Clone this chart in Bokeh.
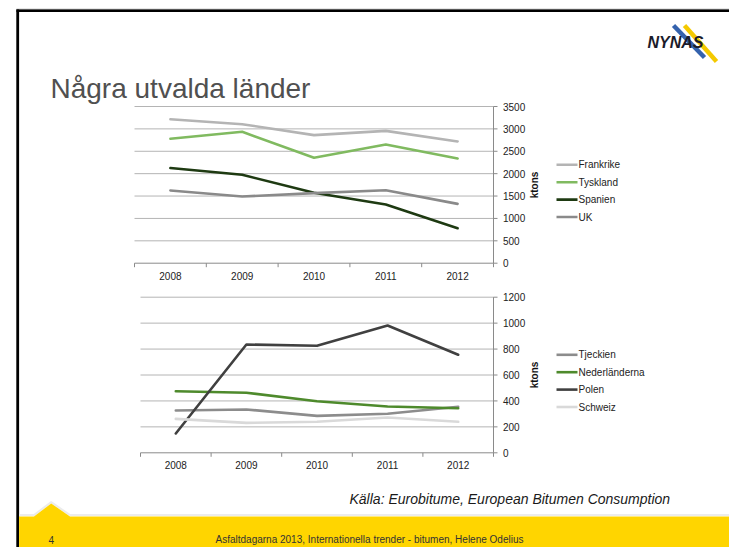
import math
from bokeh.plotting import figure
from bokeh.models import Range1d
from bokeh.core.properties import value
from bokeh.embed import file_html
from bokeh.resources import INLINE

# ---------------- data ----------------
years = ["2008", "2009", "2010", "2011", "2012"]

top_names = ["Frankrike", "Tyskland", "Spanien", "UK"]
frankrike = [3215, 3105, 2860, 2955, 2720]
tyskland = [2780, 2935, 2355, 2650, 2340]
spanien = [2125, 1975, 1575, 1310, 780]
uk = [1625, 1490, 1565, 1630, 1325]
top_ticks = [0, 500, 1000, 1500, 2000, 2500, 3000, 3500]

bottom_names = ["Tjeckien", "Nederländerna", "Polen", "Schweiz"]
tjeckien = [326, 334, 285, 301, 355]
nederlanderna = [475, 463, 398, 357, 344]
polen = [149, 835, 825, 982, 756]
schweiz = [262, 231, 239, 272, 239]
bottom_ticks = [0, 200, 400, 600, 800, 1000, 1200]

axis_title = "ktons"
slide_title = "Några utvalda länder"
source_note = "Källa: Eurobitume, European Bitumen Consumption"
footer_text = "Asfaltdagarna 2013, Internationella trender - bitumen, Helene Odelius"
page_number = "4"
logo_text = "NYNAS"

top_colors = ["#b4b4b4", "#80ba60", "#1e3a12", "#8a8a8a"]
bottom_colors = ["#8c8c8c", "#4e8a2c", "#404040", "#d9d9d9"]

FONT = value("Liberation Sans")
W, H = 729, 547
M = 0


def X(x):
    return x - M


def Y(y):
    return y - M


p = figure(width=W, height=H, x_range=Range1d(0, W), y_range=Range1d(H, 0),
           output_backend="svg", toolbar_location=None,
           x_axis_location=None, y_axis_location=None, min_border=0,
           outline_line_color=None, background_fill_color="white",
           border_fill_color="white", title=None)
p.grid.visible = False

# ---------------- slide decoration ----------------
p.quad(left=[X(16)], right=[W + 5], top=[Y(8.2)], bottom=[Y(9.2)],
       fill_color="#9a9a9a", line_color=None)
p.quad(left=[X(16)], right=[W + 5], top=[Y(9)], bottom=[Y(11.4)],
       fill_color="black", line_color=None)
p.quad(left=[X(15.8)], right=[X(18.6)], top=[Y(9)], bottom=[H + 10],
       fill_color="black", line_color=None)

# yellow footer band with a small peak
p.line(x=[X(18.6), X(33.5), X(50.7), X(69.5), W + 5],
       y=[Y(514.6), Y(514.6), Y(501.6), Y(514.6), Y(514.6)],
       line_color="#ececec", line_width=2)
p.patch(x=[X(18.6), X(33.5), X(50.7), X(69.5), W + 5, W + 5, X(18.6)],
        y=[Y(516), Y(516), Y(503), Y(516), Y(516), H + 10, H + 10],
        fill_color="#ffd500", line_color=None)

# logo
p.line(x=[X(673), X(704)], y=[Y(25), Y(57)], line_color="#3462ad", line_width=4.5)
p.line(x=[X(684), X(716)], y=[Y(25), Y(61)], line_color="#f4c900", line_width=4.5)
p.text(x=[X(647)], y=[Y(41.5)], text=[logo_text], text_font=FONT,
       text_font_size="16px", text_font_style="bold italic", text_color="#1b1b2a",
       text_align="left", text_baseline="middle")

# title
p.text(x=[X(50)], y=[Y(88)], text=[slide_title], text_font=FONT,
       text_font_size="28px", text_color="#505050", text_align="left",
       text_baseline="alphabetic")

# source and footer
p.text(x=[X(349)], y=[Y(498)], text=[source_note], text_font=FONT,
       text_font_size="14px", text_font_style="italic", text_color="#1a1a1a",
       text_align="left", text_baseline="middle")
p.text(x=[X(50.7)], y=[Y(539)], text=[page_number], text_font=FONT,
       text_font_size="10px", text_color="#333333", text_align="center",
       text_baseline="middle")
p.text(x=[X(215)], y=[Y(539)], text=[footer_text], text_font=FONT,
       text_font_size="10px", text_color="#333333", text_align="left",
       text_baseline="middle")

# ---------------- charts ----------------
extra_x, extra_y = {}, {}


def make_ranges(name, x_img0, x_img1, y_img0, y_img1, vmax):
    sx = 5.0 / (x_img1 - x_img0)
    xstart = 0.5 - X(x_img0) * sx
    pb0 = H - Y(y_img0)
    pb1 = H - Y(y_img1)
    sy = vmax / (pb1 - pb0)
    ystart = 0 - pb0 * sy
    extra_x[name] = Range1d(xstart, xstart + W * sx)
    extra_y[name] = Range1d(ystart, ystart + H * sy)
    return sx, sy


def draw_chart(name, sx, sy, ticks, series, names, colors, legend_y0, ktons_y):
    rk = dict(x_range_name=name, y_range_name=name)
    vmax = ticks[-1]
    grid = [t for t in ticks if t != 0]
    p.segment(x0=[0.5] * len(grid), x1=[5.5] * len(grid), y0=grid, y1=grid,
              line_color="#b4b4b4", line_width=1, **rk)
    # x axis
    p.segment(x0=[0.5], x1=[5.5], y0=[0], y1=[0], line_color="#8a8a8a", line_width=1, **rk)
    bounds = [0.5 + i for i in range(6)]
    p.segment(x0=bounds, x1=bounds, y0=[0] * 6, y1=[-4 * sy] * 6,
              line_color="#8a8a8a", line_width=1, **rk)
    # right y axis
    p.segment(x0=[5.5], x1=[5.5], y0=[0], y1=[vmax], line_color="#8a8a8a", line_width=1, **rk)
    p.segment(x0=[5.5] * len(ticks), x1=[5.5 + 4 * sx] * len(ticks), y0=ticks, y1=ticks,
              line_color="#8a8a8a", line_width=1, **rk)
    p.text(x=[5.5 + 9.5 * sx] * len(ticks), y=ticks, text=[str(t) for t in ticks],
           text_font=FONT, text_font_size="10px", text_color="#222222",
           text_align="left", text_baseline="middle", **rk)
    xs = [1, 2, 3, 4, 5]
    p.text(x=xs, y=[-12.5 * sy] * 5, text=years, text_font=FONT, text_font_size="10px",
           text_color="#222222", text_align="center", text_baseline="middle", **rk)
    # series
    for vals, col in zip(series, colors):
        p.line(x=xs, y=vals, line_color=col, line_width=2.6, line_join="round",
               line_cap="round", **rk)
    # axis title
    p.text(x=[X(534)], y=[Y(ktons_y)], text=[axis_title], text_font=FONT,
           text_font_size="10px", text_font_style="bold", text_color="#111111",
           angle=math.pi / 2, text_align="center", text_baseline="middle")
    # legend
    for i, (nm, col) in enumerate(zip(names, colors)):
        yy = Y(legend_y0 + i * 17.4)
        p.segment(x0=[X(556)], x1=[X(577)], y0=[yy], y1=[yy], line_color=col, line_width=2.6)
        p.text(x=[X(578)], y=[yy], text=[nm], text_font=FONT, text_font_size="10px",
               text_color="#222222", text_align="left", text_baseline="middle")


sx_t, sy_t = make_ranges("top", 134, 493, 262.7, 106, top_ticks[-1])
sx_b, sy_b = make_ranges("bottom", 140, 493, 452.3, 296.7, bottom_ticks[-1])
p.extra_x_ranges = extra_x
p.extra_y_ranges = extra_y

draw_chart("top", sx_t, sy_t, top_ticks, [frankrike, tyskland, spanien, uk],
           top_names, top_colors, 164.3, 184.5)
draw_chart("bottom", sx_b, sy_b, bottom_ticks, [tjeckien, nederlanderna, polen, schweiz],
           bottom_names, bottom_colors, 354.3, 374.5)

open("out.html", "w").write(file_html(p, INLINE))
